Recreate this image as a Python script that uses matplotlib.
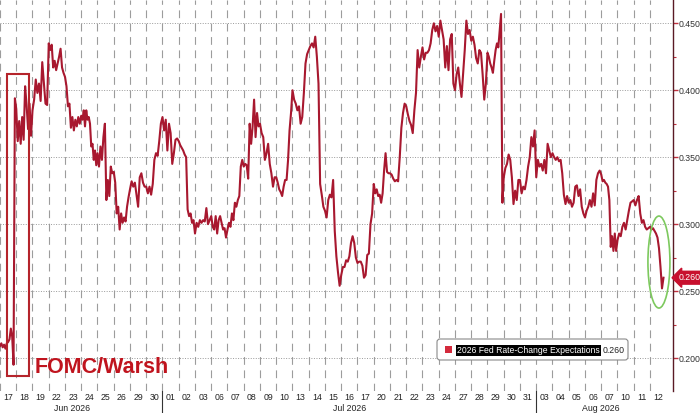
import matplotlib
matplotlib.use("Agg")
import matplotlib.pyplot as plt
import matplotlib.transforms as mtransforms
from matplotlib.patches import Rectangle, Ellipse, FancyBboxPatch
from matplotlib.lines import Line2D
from matplotlib.ticker import MultipleLocator, FormatStrFormatter

plt.rcParams['font.family'] = ['Liberation Sans', 'DejaVu Sans']

# ---------------- data ----------------
day_labels = ["17", "18", "19", "22", "23", "24", "25", "26", "29", "30",
              "01", "02", "03", "06", "07", "08", "09", "10", "13", "14", "15", "16",
              "17", "20", "21", "22", "23", "24", "27", "28", "29", "30", "31",
              "03", "04", "05", "06", "07", "10", "11", "12"]
month_labels = ["Jun 2026", "Jul 2026", "Aug 2026"]
month_first_day = [0, 10, 33]
series_name = "2026 Fed Rate-Change Expectations"

# intraday readings, one list per trading day
intraday = [
    [0.209, 0.211, 0.208, 0.210, 0.207, 0.211, 0.212, 0.214, 0.222, 0.216, 0.195, 0.394],
    [0.386, 0.362, 0.377, 0.360, 0.380, 0.363, 0.403, 0.389, 0.371, 0.390, 0.366],
    [0.385, 0.393, 0.408, 0.398, 0.405, 0.392, 0.421, 0.405, 0.390, 0.389],
    [0.435, 0.430, 0.434, 0.417, 0.422, 0.415, 0.420, 0.425, 0.431, 0.417, 0.413],
    [0.410, 0.403, 0.388, 0.390, 0.372, 0.380, 0.370, 0.378, 0.373, 0.380, 0.375],
    [0.381, 0.378, 0.385, 0.373, 0.385, 0.378, 0.380, 0.375, 0.358, 0.360, 0.348, 0.355, 0.344],
    [0.353, 0.343, 0.358, 0.348, 0.365, 0.375, 0.318, 0.333, 0.321, 0.343, 0.338],
    [0.339, 0.331, 0.308, 0.313, 0.296, 0.308, 0.301, 0.305, 0.302, 0.313, 0.320],
    [0.326, 0.332, 0.328, 0.331, 0.322, 0.313, 0.335, 0.338, 0.331, 0.328],
    [0.328, 0.323, 0.328, 0.322, 0.330, 0.348, 0.353, 0.351, 0.362, 0.375],
    [0.380, 0.370, 0.378, 0.355, 0.375, 0.368, 0.345, 0.353, 0.363, 0.364],
    [0.362, 0.359, 0.357, 0.355, 0.352, 0.350, 0.311, 0.306, 0.308, 0.301, 0.303],
    [0.293, 0.301, 0.298, 0.303, 0.301, 0.303, 0.302, 0.312, 0.300, 0.303],
    [0.306, 0.298, 0.296, 0.306, 0.293, 0.303, 0.306, 0.301, 0.296, 0.297, 0.290],
    [0.296, 0.301, 0.298, 0.308, 0.303, 0.316, 0.313, 0.318, 0.321, 0.343, 0.348],
    [0.343, 0.345, 0.344, 0.334, 0.375, 0.360, 0.373, 0.393, 0.365, 0.383, 0.373],
    [0.375, 0.368, 0.365, 0.348, 0.353, 0.360, 0.345, 0.338, 0.328, 0.335],
    [0.335, 0.331, 0.326, 0.324, 0.321, 0.328, 0.333, 0.333, 0.348, 0.370, 0.383],
    [0.400, 0.393, 0.390, 0.385, 0.388, 0.375, 0.380, 0.398, 0.420, 0.427],
    [0.430, 0.433, 0.435, 0.432, 0.440, 0.425, 0.405, 0.330, 0.322, 0.313],
    [0.310, 0.305, 0.318, 0.322, 0.320, 0.333, 0.295, 0.276, 0.264, 0.254],
    [0.262, 0.268, 0.268, 0.273, 0.272, 0.276, 0.286, 0.291, 0.286, 0.275],
    [0.271, 0.272, 0.272, 0.269, 0.260, 0.262, 0.277, 0.278, 0.300, 0.308],
    [0.330, 0.323, 0.326, 0.321, 0.322, 0.316, 0.323, 0.340, 0.353, 0.339, 0.338],
    [0.338, 0.337, 0.334, 0.332, 0.333, 0.332, 0.350, 0.372, 0.383, 0.390],
    [0.388, 0.382, 0.377, 0.374, 0.368, 0.385, 0.398, 0.430, 0.417, 0.425],
    [0.432, 0.423, 0.428, 0.428, 0.430, 0.435, 0.445, 0.450, 0.444, 0.448],
    [0.440, 0.452, 0.445, 0.438, 0.417, 0.433, 0.415, 0.438, 0.442, 0.405],
    [0.400, 0.412, 0.417, 0.405, 0.395, 0.412, 0.430, 0.452, 0.442, 0.445],
    [0.437, 0.440, 0.434, 0.424, 0.420, 0.430, 0.428, 0.412, 0.393, 0.405],
    [0.428, 0.425, 0.420, 0.417, 0.413, 0.422, 0.430, 0.435, 0.432, 0.445, 0.457, 0.316],
    [0.335, 0.342, 0.345, 0.352, 0.348, 0.335, 0.315, 0.325, 0.318, 0.333],
    [0.333, 0.323, 0.328, 0.326, 0.333, 0.343, 0.350, 0.365, 0.358, 0.370],
    [0.335, 0.348, 0.343, 0.345, 0.340, 0.348, 0.338, 0.360, 0.355, 0.350],
    [0.353, 0.350, 0.348, 0.350, 0.347, 0.348, 0.338, 0.322, 0.315, 0.321],
    [0.316, 0.318, 0.313, 0.316, 0.328, 0.329, 0.321, 0.326, 0.313, 0.308],
    [0.305, 0.310, 0.313, 0.318, 0.313, 0.323, 0.314, 0.333, 0.338, 0.340],
    [0.337, 0.332, 0.333, 0.331, 0.330, 0.328, 0.318, 0.283, 0.291, 0.280, 0.293, 0.280],
    [0.288, 0.293, 0.291, 0.298, 0.301, 0.296, 0.303, 0.310, 0.316, 0.317],
    [0.318, 0.314, 0.318, 0.321, 0.308, 0.301, 0.303, 0.298, 0.296, 0.297],
    [0.298, 0.296, 0.297, 0.295, 0.293, 0.290, 0.282, 0.268, 0.252, 0.260],
]
last_session_fraction = 0.923   # last day's session still in progress

# ---------------- build series ----------------
xs, ys = [], []
n_days = len(intraday)
for d, vals in enumerate(intraday):
    frac = last_session_fraction if d == n_days - 1 else 1.0
    n = len(vals)
    for i, v in enumerate(vals):
        xs.append(d + frac * i / n)
        ys.append(v)
last_value = intraday[-1][-1]

# ---------------- figure ----------------
W, H = 700, 413
fig = plt.figure(figsize=(W / 100, H / 100), dpi=100)
fig.patch.set_facecolor("white")
ax = fig.add_axes([0, 22 / H, 672.5 / W, 391 / H])
ax.set_xlim(0, n_days + 0.385)
ax.set_ylim(0.1754, 0.4674)

line_color = "#A8182F"
ax.plot(xs, ys, color=line_color, lw=1.5, zorder=3, solid_joinstyle="round")

# vertical dashed day separators
xt = mtransforms.blended_transform_factory(ax.transData, ax.transAxes)
for b in range(0, n_days):
    ln = Line2D([b, b], [0, 1], transform=xt, color="#9c9c9c", lw=0.8, zorder=1.5)
    ln.set_dashes([7, 5])
    ax.add_line(ln)

ax.yaxis.set_major_locator(MultipleLocator(0.05))
ax.yaxis.set_minor_locator(MultipleLocator(0.025))
ax.yaxis.set_major_formatter(FormatStrFormatter("%.3f"))
ax.grid(axis="y", which="major", color="#9a9a9a", lw=0.7, linestyle=(0, (1, 1.6)), zorder=1)

# spines / ticks
for s in ["left", "top", "bottom"]:
    ax.spines[s].set_visible(False)
ax.spines["right"].set_color("#5a1a24")
ax.spines["right"].set_linewidth(1.0)
ax.yaxis.tick_right()
ax.tick_params(axis="y", which="major", length=3.5, width=1, color="#c0303f",
               labelsize=6.3, labelcolor="#333333", pad=1.2)
ax.tick_params(axis="y", which="minor", length=2.5, width=0.8, color="#c0303f")

ax.set_xticks([d + 0.5 for d in range(n_days)])
ax.set_xticklabels(day_labels)
ax.tick_params(axis="x", length=0, labelsize=6.3, labelcolor="#222222", pad=1.8)

# month labels and separators
month_label_pos = [4.45, 21.5, 37.0]
for lab, pos in zip(month_labels, month_label_pos):
    ax.text(pos, -0.0435, lab, transform=xt, ha="center", va="center",
            fontsize=6.3, color="#222222")
for start in month_first_day[1:]:
    ax.plot([start, start], [0, -22 / 391], transform=xt, color="#333333",
            lw=0.8, clip_on=False)

# FOMC annotation
ax.add_patch(Rectangle((0.45, 0.1866), 1.35, 0.2255, fill=False,
                       edgecolor="#B5242B", lw=1.5, zorder=4))
ax.text(2.15, 0.1885, "FOMC/Warsh", color="#C0141E", fontsize=15.5,
        fontweight="bold", ha="left", va="baseline", zorder=4)

# green ellipse around latest drop
ax.add_patch(Ellipse((40.55, 0.2717), 1.354, 0.0687, fill=False,
                     edgecolor="#7DC95E", lw=1.2, zorder=4))

# last value tag
yt = mtransforms.blended_transform_factory(ax.transAxes, ax.transData)
ax.text(1.0 + 6.5 / 672.5, last_value, f"{last_value:.3f}", transform=yt,
        ha="left", va="center", fontsize=6.3, color="white", clip_on=False,
        bbox=dict(boxstyle="larrow,pad=0.22", fc="#C8102E", ec="#C8102E"), zorder=6)

# legend (drawn in pixel coordinates)
px = mtransforms.Affine2D().scale(1 / W, -1 / H).translate(0, 1) + fig.transFigure
fig.patches.append(FancyBboxPatch((437, 339), 191, 21, boxstyle="round,pad=0,rounding_size=3",
                                  transform=px, fc="white", ec="#8a8a8a", lw=0.8, zorder=5))
fig.patches.append(Rectangle((445, 346), 7, 7, transform=px, fc="#D42A3C", ec="none", zorder=6))
fig.text(457, 350.5, series_name, transform=px, ha="left", va="center", fontsize=6.2,
         color="white", zorder=7,
         bbox=dict(boxstyle="square,pad=0.12", fc="black", ec="none"))
fig.text(603, 350.5, f"{last_value:.3f}", transform=px, ha="left", va="center",
         fontsize=6.3, color="#222222", zorder=7)

fig.savefig("out.png", dpi=100)
